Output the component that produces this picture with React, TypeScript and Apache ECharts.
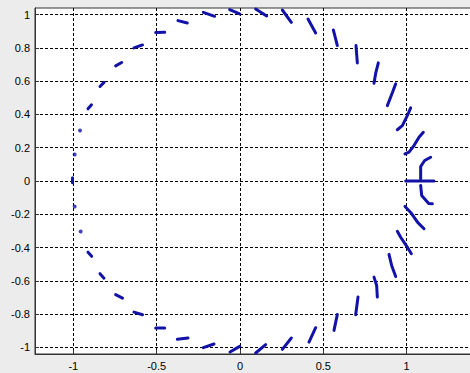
import React, { useEffect, useRef } from "react";
import * as echarts from "echarts";

const xTicks = [-1, -0.5, 0, 0.5, 1];
const yTicks = [-1, -0.8, -0.6, -0.4, -0.2, 0, 0.2, 0.4, 0.6, 0.8, 1];

// single roots (dots)
const dotPoints: number[][] = [
  [-0.96, 0.303],
  [-0.992, 0.159],
  [-0.992, -0.153],
  [-0.956, -0.303],
];

// streaks on the upper half of the circle (left to right)
const upperStreaks: number[][][] = [
  [[-1.005, 0.02], [-1.005, -0.01]],
  [[-0.912, 0.434], [-0.891, 0.458]],
  [[-0.84, 0.568], [-0.816, 0.593]],
  [[-0.746, 0.692], [-0.71, 0.712]],
  [[-0.636, 0.8], [-0.585, 0.818]],
  [[-0.506, 0.892], [-0.452, 0.894]],
  [[-0.372, 0.964], [-0.316, 0.95]],
  [[-0.22, 1.014], [-0.152, 0.99]],
  [[-0.062, 1.03], [-0.002, 1.004]],
  [[0.094, 1.034], [0.16, 0.992]],
  [[0.254, 1.028], [0.308, 0.954]],
  [[0.408, 0.974], [0.454, 0.89]],
  [[0.56, 0.908], [0.584, 0.814]],
  [[0.696, 0.814], [0.704, 0.71]],
  [[0.83, 0.71], [0.815, 0.652], [0.804, 0.587]],
  [[0.934, 0.584], [0.91, 0.52], [0.884, 0.453]],
  [[1.024, 0.44], [1.004, 0.393], [0.974, 0.333], [0.944, 0.308]],
  [[1.1, 0.293], [1.074, 0.263], [1.044, 0.213], [1.014, 0.173], [0.99, 0.163]],
  [[1.144, 0.143], [1.108, 0.123], [1.084, 0.087], [1.084, 0.051], [1.084, 0.013]],
];

// real-axis segment near x = 1
const realSegment: number[][] = [[0.994, 0], [1.164, 0]];

// streaks on the lower half of the circle (right to left)
const lowerStreaks: number[][][] = [
  [[1.084, -0.027], [1.09, -0.087], [1.132, -0.135], [1.154, -0.137]],
  [[0.99, -0.153], [1.024, -0.189], [1.066, -0.249], [1.104, -0.287]],
  [[0.944, -0.302], [0.964, -0.338], [1.004, -0.398], [1.028, -0.437]],
  [[0.894, -0.441], [0.91, -0.508], [0.934, -0.574]],
  [[0.804, -0.578], [0.82, -0.628], [0.824, -0.698]],
  [[0.708, -0.698], [0.694, -0.804]],
  [[0.584, -0.802], [0.564, -0.898]],
  [[0.454, -0.882], [0.414, -0.968]],
  [[0.308, -0.944], [0.254, -1.012]],
  [[0.154, -0.984], [0.094, -1.034]],
  [[-0.002, -0.994], [-0.06, -1.028]],
  [[-0.156, -0.98], [-0.22, -1.002]],
  [[-0.312, -0.944], [-0.376, -0.952]],
  [[-0.452, -0.884], [-0.506, -0.884]],
  [[-0.585, -0.804], [-0.636, -0.788]],
  [[-0.705, -0.704], [-0.746, -0.683]],
  [[-0.816, -0.584], [-0.84, -0.557]],
  [[-0.89, -0.453], [-0.912, -0.428]],
];

const BLUE = "#1212a8";
const FONT = "'Liberation Sans', Arial, sans-serif";

export default function App() {
  const ref = useRef<HTMLDivElement>(null);
  useEffect(() => {
    if (!ref.current) return;
    const chart = echarts.init(ref.current, undefined, { renderer: "svg" });
    const streaks = [...upperStreaks, realSegment, ...lowerStreaks];
    const series: any[] = streaks.map((pts) => ({
      type: "line",
      data: pts,
      showSymbol: false,
      silent: true,
      lineStyle: { color: BLUE, width: 3, cap: "round", join: "round" },
    }));
    series.push({
      type: "scatter",
      data: dotPoints,
      symbolSize: 4,
      silent: true,
      itemStyle: { color: BLUE },
    });
    const axisCommon = {
      type: "value",
      axisLine: { show: true, onZero: false, lineStyle: { color: "#333", width: 1 } },
      splitLine: { show: true, lineStyle: { color: "#000", width: 1, type: [3, 2] } },
    };
    chart.setOption({
      animation: false,
      backgroundColor: "#ececec",
      grid: {
        left: 35,
        width: 455,
        top: 8,
        bottom: 19,
        show: true,
        backgroundColor: "#ffffff",
        borderColor: "#333",
        borderWidth: 1,
        containLabel: false,
        outerBoundsMode: "none",
      },
      xAxis: {
        ...axisCommon,
        min: -1.23,
        max: 1.5,
        axisTick: { show: true, inside: true, length: 4, customValues: xTicks, lineStyle: { color: "#333" } },
        axisLabel: { customValues: xTicks, color: "#000", fontSize: 11, fontFamily: FONT, margin: 6 },
      },
      yAxis: {
        ...axisCommon,
        min: -1.04,
        max: 1.04,
        axisTick: { show: true, inside: true, length: 4, customValues: yTicks, lineStyle: { color: "#333" } },
        axisLabel: { customValues: yTicks, color: "#000", fontSize: 11, fontFamily: FONT, margin: 5 },
      },
      series,
    });
    return () => chart.dispose();
  }, []);
  return (
    <div
      ref={ref}
      style={{ position: "fixed", left: 0, top: 0, width: 470, height: 373 }}
    />
  );
}
